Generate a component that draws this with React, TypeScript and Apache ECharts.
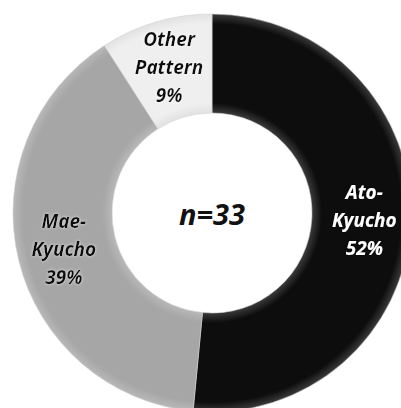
import React, { useEffect, useRef } from "react";
import * as echarts from "echarts";

// Counts of each pattern among the 33 cases
const categories = ["Ato-\nKyucho", "Mae-\nKyucho", "Other\nPattern"];
const counts = [17, 13, 3];
const centerLabel = "n=33";

const CX = 212;
const CY = 213;
const R_IN = 100;
const R_OUT = 199;
const FONT = "'Noto Sans', 'Open Sans', sans-serif";

// Ring-shaped bevel: darker/lighter at the inner and outer rims
function bevel(edge: string, mid: string) {
  const a = R_IN / R_OUT;
  return {
    type: "radial",
    x: CX,
    y: CY,
    r: R_OUT,
    global: true,
    colorStops: [
      { offset: 0, color: edge },
      { offset: a, color: edge },
      { offset: a + 0.05, color: mid },
      { offset: 0.95, color: mid },
      { offset: 1, color: edge },
    ],
  };
}

const fills = [bevel("#3a3a3a", "#0d0d0d"), bevel("#b8b8b8", "#a6a6a6"), bevel("#e2e2e2", "#efefef")];
const textColors = ["#ffffff", "#111111", "#111111"];

export default function App() {
  const ref = useRef<HTMLDivElement>(null);

  useEffect(() => {
    if (!ref.current) return;
    const chart = echarts.init(ref.current, null, { renderer: "svg" });
    chart.setOption({
      animation: false,
      backgroundColor: "#ffffff",
      graphic: [
        {
          type: "text",
          x: CX,
          y: CY,
          style: {
            text: centerLabel,
            align: "center",
            verticalAlign: "middle",
            fontFamily: FONT,
            fontStyle: "italic",
            fontWeight: "bold",
            fontSize: 29,
            fill: "#111111",
          },
        },
      ],
      series: [
        {
          type: "pie",
          center: [CX, CY],
          radius: [R_IN, R_OUT],
          startAngle: 90,
          clockwise: true,
          silent: true,
          percentPrecision: 0,
          label: {
            show: true,
            position: "inside",
            formatter: "{b}\n{d}%",
            fontFamily: FONT,
            fontStyle: "italic",
            fontWeight: "bold",
            fontSize: 19,
            lineHeight: 28,
            align: "center",
          },
          labelLine: { show: false },
          data: categories.map((name, i) => ({
            name,
            value: counts[i],
            itemStyle: { color: fills[i], borderColor: "#d0d0d0", borderWidth: 0.6 },
            label: {
              color: textColors[i],
              textShadowColor: i === 0 ? "rgba(0,0,0,0.8)" : "rgba(255,255,255,0.7)",
              textShadowBlur: 3,
            },
          })),
        },
      ],
    });
    return () => chart.dispose();
  }, []);

  return (
    <div
      ref={ref}
      style={{ position: "fixed", left: 0, top: 0, width: 401, height: 408 }}
    />
  );
}
